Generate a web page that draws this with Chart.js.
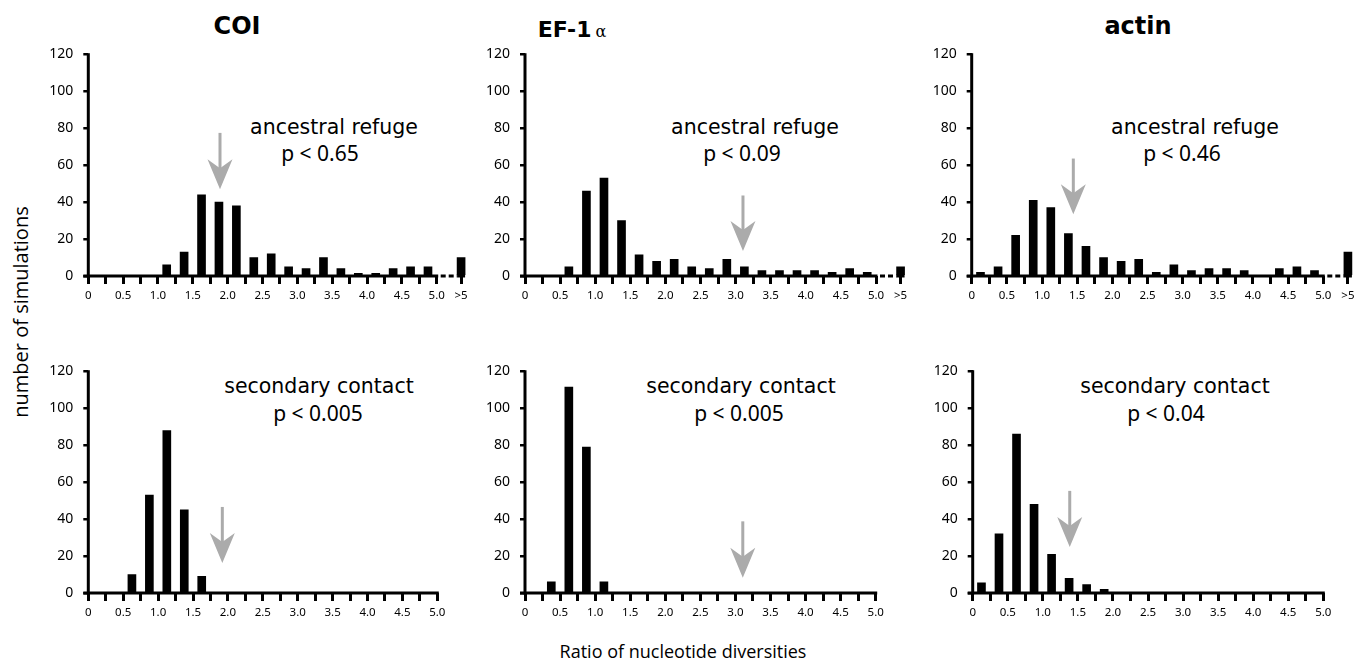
<!DOCTYPE html>
<html><head><meta charset="utf-8">
<script src="https://cdn.jsdelivr.net/npm/chart.js@4.4.0/dist/chart.umd.min.js"></script>
<style>
html,body{margin:0;padding:0;background:#fff}
body{width:1358px;height:664px;position:relative;overflow:hidden;font-family:"Open Sans","Noto Sans",sans-serif;color:#000}
canvas{position:absolute}
.t{position:absolute;white-space:nowrap;transform:translate(-50%,-50%);line-height:1}
.ttl{font-family:"Comic Sans MS","DejaVu Sans",sans-serif;font-weight:bold;font-size:24px}
.ann{font-family:"Comic Sans MS","DejaVu Sans",sans-serif;font-size:20.5px}
.pv{font-family:"Noto Sans","Open Sans",sans-serif;font-size:21px}
.ax{font-family:"Open Sans","Noto Sans",sans-serif;font-size:18px}
</style></head><body>

<div class="t ttl" style="left:237px;top:26px">COI</div>
<div class="t ttl" style="left:572px;top:30px;font-size:22px">EF-1<span style="font-weight:normal;font-family:'DejaVu Serif',serif;font-size:16px;margin-left:4px">α</span></div>
<div class="t ttl" style="left:1138px;top:26px">actin</div>

<div class="t ann" style="left:334px;top:127px">ancestral refuge</div>
<div class="t pv" style="left:320px;top:153px">p &lt; 0.65</div>
<div class="t ann" style="left:755px;top:127px">ancestral refuge</div>
<div class="t pv" style="left:742px;top:153px">p &lt; 0.09</div>
<div class="t ann" style="left:1195px;top:127px">ancestral refuge</div>
<div class="t pv" style="left:1182px;top:153px">p &lt; 0.46</div>

<div class="t ann" style="left:319px;top:386px">secondary contact</div>
<div class="t pv" style="left:318px;top:413px">p &lt; 0.005</div>
<div class="t ann" style="left:741px;top:386px">secondary contact</div>
<div class="t pv" style="left:739px;top:413px">p &lt; 0.005</div>
<div class="t ann" style="left:1175px;top:386px">secondary contact</div>
<div class="t pv" style="left:1166px;top:413px">p &lt; 0.04</div>

<div class="t ax" style="left:21px;top:312px;font-size:20px;transform:translate(-50%,-50%) rotate(-90deg)">number of simulations</div>
<div class="t ax" style="left:683px;top:651px">Ratio of nucleotide diversities</div>

<script>
// ---------- DATA ----------
const binCenters = [0.125,0.375,0.625,0.875,1.125,1.375,1.625,1.875,2.125,2.375,
                    2.625,2.875,3.125,3.375,3.625,3.875,4.125,4.375,4.625,4.875];
const overBinX = 5.35;          // position of the ">5" bin
const xTickValues = [0,0.25,0.5,0.75,1,1.25,1.5,1.75,2,2.25,2.5,2.75,3,3.25,3.5,3.75,4,4.25,4.5,4.75,5];
const xTickLabels = ["0","","0.5","","1.0","","1.5","","2.0","","2.5","","3.0","","3.5","","4.0","","4.5","","5.0"];
const overLabel = ">5";
const yTickValues = [0,20,40,60,80,100,120];

// ancestral refuge simulations (top row)
const coiRefuge   = [0,0,0,0,6,13,44,40,38,10,12,5,4,10,4,1.5,1.5,4,5,5];
const coiRefugeOver = 10;
const efRefuge    = [0,0,5,46,53,30,11.5,8,9,5,4,9,5,3,3,3,3,2,4,2];
const efRefugeOver = 5;
const actinRefuge = [2,5,22,41,37,23,16,10,8,9,2,6,3,4,4,3,0,4,5,3];
const actinRefugeOver = 13;

// secondary contact simulations (bottom row)
const coiContact   = [0,0,10,53,88,45,9,0,0,0,0,0,0,0,0,0,0,0,0,0];
const efContact    = [0,6,111.5,79,6,0,0,0,0,0,0,0,0,0,0,0,0,0,0,0];
const actinContact = [5.5,32,86,48,21,8,4.5,2,0,0,0,0,0,0,0,0,0,0,0,0];

// observed values (grey arrows): [x, arrow top, arrow tip]
const coiRefugeArrow   = [1.89, 77.5, 47];
const efRefugeArrow    = [3.105, 43.6, 13.5];
const actinRefugeArrow = [1.445, 63.6, 33.5];
const coiContactArrow  = [1.92, 46.6, 16.2];
const efContactArrow   = [3.105, 38.8, 8.3];
const actinContactArrow= [1.384, 55.3, 24.9];

// ---------- DRAWING ----------
const AXW = 62, AXH = 36, PT = 10, PR = 14;

const axesPlugin = {
  id: 'axesArrow',
  afterDatasetsDraw(chart, args, opts) {
    const {ctx, scales:{x, y}} = chart;
    const y0 = y.getPixelForValue(0), x0 = x.getPixelForValue(0);
    ctx.save();
    ctx.strokeStyle = '#000'; ctx.lineWidth = 3; ctx.lineCap = 'butt';
    ctx.beginPath(); ctx.moveTo(x0, y0 + 1.5); ctx.lineTo(x0, y.getPixelForValue(120) - 1.2); ctx.stroke();
    ctx.beginPath(); ctx.moveTo(x0 - 5, y0); ctx.lineTo(x.getPixelForValue(5) + 1.5, y0); ctx.stroke();
    if (opts.over) {
      const xs = x.getPixelForValue(5) + 4, xe = x.getPixelForValue(overBinX) - 4;
      ctx.setLineDash([5, 3]);
      ctx.beginPath(); ctx.moveTo(xs, y0); ctx.lineTo(xe, y0); ctx.stroke();
      ctx.setLineDash([]);
      ctx.beginPath(); ctx.moveTo(xe, y0); ctx.lineTo(x.getPixelForValue(overBinX) + 4, y0); ctx.stroke();
    }
    const a = opts.arrow;
    if (a) {
      const ax = x.getPixelForValue(a[0]);
      const yt = y.getPixelForValue(a[1]), yp = y.getPixelForValue(a[2]);
      ctx.fillStyle = '#ababab'; ctx.strokeStyle = '#ababab'; ctx.lineWidth = 3;
      ctx.beginPath(); ctx.moveTo(ax, yt); ctx.lineTo(ax, yp - 18); ctx.stroke();
      ctx.beginPath();
      ctx.moveTo(ax, yp);
      ctx.lineTo(ax - 12.5, yp - 30);
      ctx.lineTo(ax, yp - 21);
      ctx.lineTo(ax + 12.5, yp - 30);
      ctx.closePath(); ctx.fill();
    }
    ctx.restore();
  }
};

function panel(p) {
  const c = document.createElement('canvas');
  const left = Math.floor(p.x0) - AXW;
  const yw = p.x0 - left;
  const plotW = (p.x5 - p.x0) * p.xmax / 5;
  const W = Math.ceil(yw + plotW + PR);
  const padR = W - yw - plotW;
  const top = p.y120 - PT;
  const H = PT + (p.y0 - p.y120) + AXH;
  c.width = W; c.height = H;
  c.style.left = left + 'px'; c.style.top = top + 'px';
  c.style.width = W + 'px'; c.style.height = H + 'px';
  document.body.appendChild(c);

  const pts = binCenters.map((bx, i) => ({x: bx, y: p.values[i]}));
  const tv = p.over != null ? xTickValues.concat([overBinX]) : xTickValues.slice();
  const tl = p.over != null ? xTickLabels.concat([overLabel]) : xTickLabels.slice();
  if (p.over != null) pts.push({x: overBinX, y: p.over});

  new Chart(c, {
    type: 'bar',
    data: { datasets: [{ data: pts, backgroundColor: '#000', borderWidth: 0, barThickness: 8 }] },
    options: {
      responsive: false, animation: false, devicePixelRatio: 1,
      layout: { padding: { top: PT, right: padR, left: 0, bottom: 0 } },
      plugins: { legend: {display: false}, tooltip: {enabled: false},
                 axesArrow: { arrow: p.arrow, over: p.over != null } },
      scales: {
        x: {
          type: 'linear', min: 0, max: p.xmax, offset: false,
          afterBuildTicks: s => { s.ticks = tv.map(v => ({value: v})); },
          afterFit: s => { s.height = AXH; },
          grid: { display: true, drawOnChartArea: false, drawTicks: true, tickLength: 8,
                  color: '#000', lineWidth: 3, tickWidth: 3, offset: false },
          border: { display: false },
          ticks: { autoSkip: false, maxRotation: 0, minRotation: 0, padding: 5, color: '#000',
                   font: { family: 'Noto Sans', size: 11.5 },
                   callback: (v, i) => tl[i] }
        },
        y: {
          min: 0, max: 120,
          afterBuildTicks: s => { s.ticks = yTickValues.map(v => ({value: v})); },
          afterFit: s => { s.width = yw; },
          grid: { display: true, drawOnChartArea: false, drawTicks: true, tickLength: 5,
                  color: '#000', lineWidth: 2.5, tickWidth: 2.5 },
          border: { display: false },
          ticks: { padding: 10, color: '#000', font: { family: 'Noto Sans', size: 14 } }
        }
      }
    },
    plugins: [axesPlugin]
  });
}

panel({x0: 88.3, x5: 436.7, y120: 46, y0: 276, xmax: 5.45, values: coiRefuge,   over: coiRefugeOver,   arrow: coiRefugeArrow});
panel({x0: 525,  x5: 876,   y120: 46, y0: 276, xmax: 5.45, values: efRefuge,    over: efRefugeOver,    arrow: efRefugeArrow});
panel({x0: 971.7,x5: 1323.3,y120: 46, y0: 276, xmax: 5.45, values: actinRefuge, over: actinRefugeOver, arrow: actinRefugeArrow});
panel({x0: 88.3, x5: 437.3, y120: 363, y0: 593, xmax: 5.0, values: coiContact,   arrow: coiContactArrow});
panel({x0: 525,  x5: 875.7, y120: 363, y0: 593, xmax: 5.0, values: efContact,    arrow: efContactArrow});
panel({x0: 972.7,x5: 1323.3,y120: 363, y0: 593, xmax: 5.0, values: actinContact, arrow: actinContactArrow});
</script>
</body></html>
